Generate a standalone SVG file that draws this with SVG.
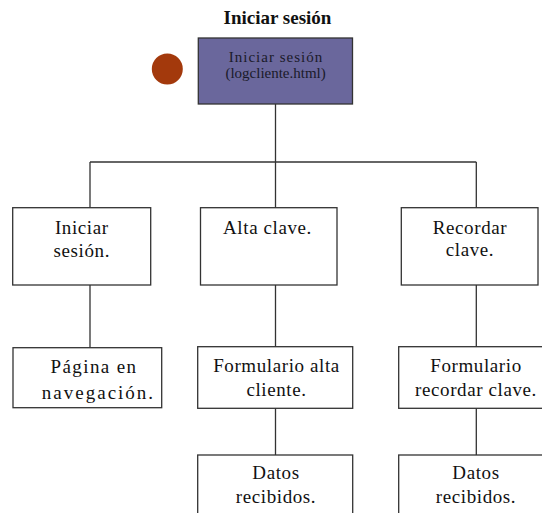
<svg xmlns="http://www.w3.org/2000/svg" width="542" height="513" viewBox="0 0 542 513">
  <style>
    .box { fill: #ffffff; stroke: #333333; stroke-width: 1.3; }
    .root { fill: #6a679c; stroke: #333333; stroke-width: 1.3; }
    text { font-family: 'Liberation Serif', 'Times New Roman', 'DejaVu Serif', serif; }
    .lbl { font-size: 19px; fill: #111111; text-anchor: middle; letter-spacing: 0.6px; }
    .rootlbl { font-size: 15px; fill: #1a1a2a; text-anchor: middle; }
    .title { font-size: 19px; font-weight: bold; fill: #111111; text-anchor: middle; }
    .conn { fill: none; stroke: #333333; stroke-width: 1.3; }
  </style>
  <rect width="542" height="513" fill="#ffffff"/>

  <text class="title" x="277.5" y="24">Iniciar sesión</text>

  <!-- tree connectors -->
  <g id="connectors">
    <path class="conn" d="M275.5 104 V208"/>
    <path class="conn" d="M90 162 H476.3"/>
    <path class="conn" d="M90 162 V208 M476.3 162 V208"/>
    <path class="conn" d="M90 285 V348 M275.5 285 V347 M476.3 285 V347"/>
    <path class="conn" d="M275.5 408 V455 M476.3 408 V455"/>
  </g>

  <circle id="marker-dot" cx="167.3" cy="69" r="15.5" fill="#a3390c"/>

  <g id="root">
    <rect class="root" x="198.3" y="38" width="154.2" height="66"/>
    <text class="rootlbl" x="276" y="61.7" style="letter-spacing:1px">Iniciar sesión</text>
    <text class="rootlbl" x="275.6" y="78.3">(logcliente.html)</text>
  </g>

  <g id="iniciar">
    <rect class="box" x="12.7" y="207.7" width="138" height="77.3"/>
    <text class="lbl" x="81.8" y="234.3">Iniciar</text>
    <text class="lbl" x="81.8" y="256.5">sesión.</text>
  </g>

  <g id="alta">
    <rect class="box" x="200.5" y="207.7" width="136.5" height="77.3"/>
    <text class="lbl" x="267.5" y="234.3">Alta clave.</text>
  </g>

  <g id="recordar">
    <rect class="box" x="401.3" y="207.7" width="136.7" height="77.3"/>
    <text class="lbl" x="470" y="233.5">Recordar</text>
    <text class="lbl" x="470" y="256">clave.</text>
  </g>

  <g id="pagina">
    <rect class="box" x="13" y="347.7" width="148.7" height="60"/>
    <text class="lbl" x="94" y="373" style="letter-spacing:1.4px">Página en</text>
    <text class="lbl" x="98.5" y="399" style="letter-spacing:2px">navegación.</text>
  </g>

  <g id="form-alta">
    <rect class="box" x="197.7" y="346.7" width="155" height="61.6"/>
    <text class="lbl" x="276.5" y="371.7">Formulario alta</text>
    <text class="lbl" x="276.5" y="395.7">cliente.</text>
  </g>

  <g id="form-recordar">
    <rect class="box" x="398.7" y="346.7" width="154" height="61.6"/>
    <text class="lbl" x="476" y="371.7">Formulario</text>
    <text class="lbl" x="476" y="395.7">recordar clave.</text>
  </g>

  <g id="datos-alta">
    <rect class="box" x="197.7" y="455" width="155" height="70"/>
    <text class="lbl" x="276" y="479">Datos</text>
    <text class="lbl" x="276" y="503.3">recibidos.</text>
  </g>

  <g id="datos-recordar">
    <rect class="box" x="398.7" y="455" width="154" height="70"/>
    <text class="lbl" x="476" y="479">Datos</text>
    <text class="lbl" x="476" y="503.3">recibidos.</text>
  </g>
</svg>
